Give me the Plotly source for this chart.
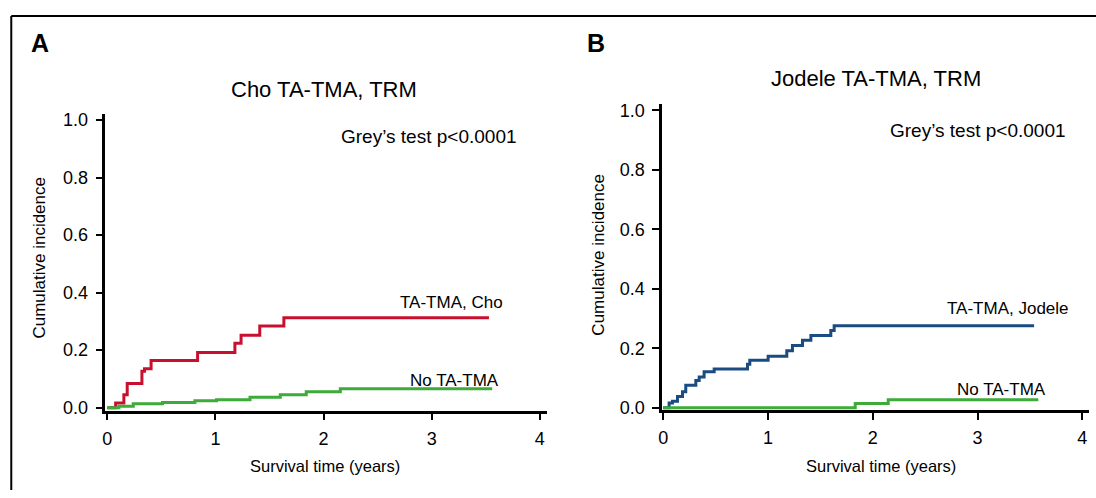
import plotly.graph_objects as go

W, H = 1096, 498

# ---- data ----
cho_tma_t = [0, 0.077, 0.153, 0.184, 0.32, 0.344, 0.405, 0.835, 1.18, 1.237, 1.41, 1.633, 3.53]
cho_tma_y = [0, 0.016, 0.045, 0.084, 0.127, 0.135, 0.164, 0.192, 0.224, 0.252, 0.284, 0.313, 0.313]
cho_no_t = [0, 0.107, 0.24, 0.51, 0.81, 1.01, 1.32, 1.6, 1.84, 2.155, 3.56]
cho_no_y = [0, 0.005, 0.014, 0.018, 0.024, 0.028, 0.036, 0.045, 0.055, 0.066, 0.066]

jod_tma_t = [0, 0.057, 0.089, 0.137, 0.185, 0.216, 0.312, 0.344, 0.391, 0.487, 0.805, 0.827,
             1.002, 1.18, 1.234, 1.33, 1.41, 1.6, 1.632, 3.54]
jod_tma_y = [0, 0.016, 0.022, 0.038, 0.054, 0.076, 0.092, 0.103, 0.121, 0.13, 0.146, 0.16,
             0.173, 0.192, 0.209, 0.227, 0.243, 0.26, 0.276, 0.276]
jod_no_t = [0, 1.833, 2.148, 3.58]
jod_no_y = [0, 0.014, 0.027, 0.027]

x_ticks = [0, 1, 2, 3, 4]
y_ticks = [0, 0.2, 0.4, 0.6, 0.8, 1.0]

RED = "#C8102E"
GREEN = "#3DAA3A"
BLUE = "#1A4C82"

REG = "Liberation Sans, Arial, Helvetica, sans-serif"


def px(x):
    return x / W


def py(y):
    return 1 - y / H


fig = go.Figure()

fig.add_trace(go.Scatter(x=cho_tma_t, y=cho_tma_y, mode="lines", line=dict(color=RED, width=3, shape="hv"),
                         xaxis="x", yaxis="y", showlegend=False))
fig.add_trace(go.Scatter(x=cho_no_t, y=cho_no_y, mode="lines", line=dict(color=GREEN, width=3, shape="hv"),
                         xaxis="x", yaxis="y", showlegend=False))
fig.add_trace(go.Scatter(x=jod_tma_t, y=jod_tma_y, mode="lines", line=dict(color=BLUE, width=3, shape="hv"),
                         xaxis="x2", yaxis="y2", showlegend=False))
fig.add_trace(go.Scatter(x=jod_no_t, y=jod_no_y, mode="lines", line=dict(color=GREEN, width=3, shape="hv"),
                         xaxis="x2", yaxis="y2", showlegend=False))

common_x = dict(tickvals=x_ticks, ticks="outside", ticklen=7, tickwidth=2, tickcolor="black",
                showline=True, linecolor="black", linewidth=2.5, showgrid=False, zeroline=False,
                tickfont=dict(family=REG, size=18, color="black"), ticklabelstandoff=3, fixedrange=True)
common_y = dict(tickvals=y_ticks, tickformat=".1f", ticks="outside", ticklen=7, tickwidth=2, tickcolor="black",
                showline=True, linecolor="black", linewidth=2.5, showgrid=False, zeroline=False,
                tickfont=dict(family=REG, size=18, color="black"), ticklabelstandoff=4, fixedrange=True)

fig.update_layout(
    width=W, height=H,
    margin=dict(l=0, r=0, t=0, b=0),
    paper_bgcolor="white", plot_bgcolor="white",
    xaxis=dict(domain=[px(101.75), px(545.0)], range=[-0.018, 4.067], anchor="y", **common_x),
    yaxis=dict(domain=[py(416.6), py(113.0)], range=[-0.01, 1.02], anchor="x", **common_y),
    xaxis2=dict(domain=[px(660.5), px(1089.3)], range=[-0.01, 4.067], anchor="y2", **common_x),
    yaxis2=dict(domain=[py(416.0), py(102.3)], range=[-0.0075, 1.022], anchor="x2", **common_y),
)

ann = []


def text(x, y, s, size, family=REG, xanchor="center", angle=0, bold=False):
    ann.append(dict(x=px(x), y=py(y), xref="paper", yref="paper", text=("<b>%s</b>" % s) if bold else s,
                    showarrow=False, xanchor=xanchor, yanchor="middle", textangle=angle,
                    font=dict(family=family, size=size, color="black")))


# panel letters
text(36, 40, "A", 25, bold=True)
text(594, 40, "B", 25, bold=True)
# titles
text(321, 88, "Cho TA-TMA, TRM", 22)
text(875, 76, "Jodele TA-TMA, TRM", 22)
# test annotation
text(427, 136, "Grey’s test p&lt;0.0001", 19)
text(978, 130, "Grey’s test p&lt;0.0001", 19)
# series labels
text(503, 306, "TA-TMA, Cho", 17, xanchor="right")
text(499, 386, "No TA-TMA", 17, xanchor="right")
text(1071, 312, "TA-TMA, Jodele", 17, xanchor="right")
text(1048, 395, "No TA-TMA", 17, xanchor="right")
# axis titles
text(322, 473, "Survival time (years)", 16.5)
text(880, 473, "Survival time (years)", 16.5)
text(36, 260, "Cumulative incidence", 17, angle=-90)
text(597, 257, "Cumulative incidence", 17, angle=-90)

fig.update_layout(annotations=ann)

# outer frame (clipped at right and bottom)
fig.add_shape(type="line", xref="paper", yref="paper", x0=px(7.3), x1=1.0, y0=py(12.3), y1=py(12.3),
              line=dict(color="black", width=2))
fig.add_shape(type="line", xref="paper", yref="paper", x0=px(7.3), x1=px(7.3), y0=py(12.3), y1=0,
              line=dict(color="black", width=2))

fig.write_html("out.html")
